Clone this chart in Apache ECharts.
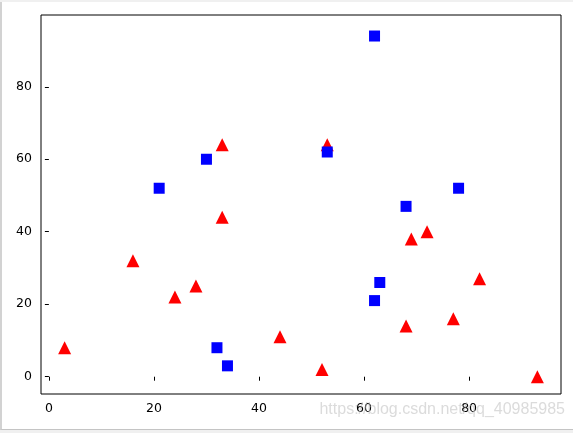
<!DOCTYPE html>
<html>
<head>
    <meta charset="utf-8">
    <title>scatter</title>
    <style>
        body { margin: 0; background: #f0f0f0; }
        #wrap { width: 573px; height: 433px; position: relative; background: #f0f0f0; }
        #main { position: absolute; left: 0; top: 2px; width: 571px; height: 427px;
                background: #fff; border-left: 2px solid #d2d2d2; border-bottom: 1px solid #c4c4c4; }
    </style>
</head>
<body>
    <div id="wrap"><div id="main"></div></div>
    <script src="https://cdn.jsdelivr.net/npm/echarts@6/dist/echarts.min.js"></script>
    <script>
        // red triangles
        var triX = [33, 33, 16, 69, 72, 3, 24, 28, 44, 52, 68, 77, 82, 93, 53];
        var triY = [64, 44, 32, 38, 40, 8, 22, 25, 11, 2, 14, 16, 27, 0, 64];
        // blue squares
        var sqX = [21, 30, 53, 78, 68, 63, 62, 32, 34, 62];
        var sqY = [52, 60, 62, 52, 47, 26, 21, 8, 3, 94];
        var xTicks = [0, 20, 40, 60, 80];
        var yTicks = [0, 20, 40, 60, 80];

        function pairs(xs, ys) {
            var out = [];
            for (var i = 0; i < xs.length; i++) out.push([xs[i], ys[i]]);
            return out;
        }

        var myChart = echarts.init(document.getElementById('main'));
        var axisCommon = {
            axisLine: { show: false },
            axisTick: { show: true, inside: false, length: 4, lineStyle: { color: '#000', width: 1 } },
            axisLabel: { color: '#000', fontSize: 12.5, fontFamily: 'DejaVu Sans', margin: 8 },
            splitLine: { show: false }
        };
        var option = {
            animation: false,
            grid: { left: 39, right: 12, top: 13, bottom: 35, show: true,
                    borderColor: '#000', borderWidth: 1, backgroundColor: '#fff' },
            xAxis: Object.assign({}, axisCommon, {
                type: 'value', min: -1.5, max: 97.5,
                axisTick: Object.assign({}, axisCommon.axisTick, { customValues: xTicks }),
                axisLabel: Object.assign({}, axisCommon.axisLabel, { customValues: xTicks })
            }),
            yAxis: Object.assign({}, axisCommon, {
                type: 'value', min: -4.77, max: 99.8,
                axisTick: Object.assign({}, axisCommon.axisTick, { customValues: yTicks }),
                axisLabel: Object.assign({}, axisCommon.axisLabel, { customValues: yTicks, margin: 9 })
            }),
            series: [{
                type: 'scatter',
                symbol: 'triangle',
                symbolSize: 13,
                itemStyle: { color: '#ff0000', opacity: 1 },
                data: pairs(triX, triY)
            }, {
                type: 'scatter',
                symbol: 'rect',
                symbolSize: 11,
                itemStyle: { color: '#0000ff', opacity: 1 },
                data: pairs(sqX, sqY)
            }],
            graphic: [{
                type: 'text',
                right: 8,
                top: 400,
                z: 100,
                style: {
                    text: 'https://blog.csdn.net/qq_40985985',
                    fill: 'rgba(190,190,190,0.55)',
                    font: '16px "Liberation Sans"'
                }
            }]
        };
        myChart.setOption(option);
    </script>
</body>
</html>
